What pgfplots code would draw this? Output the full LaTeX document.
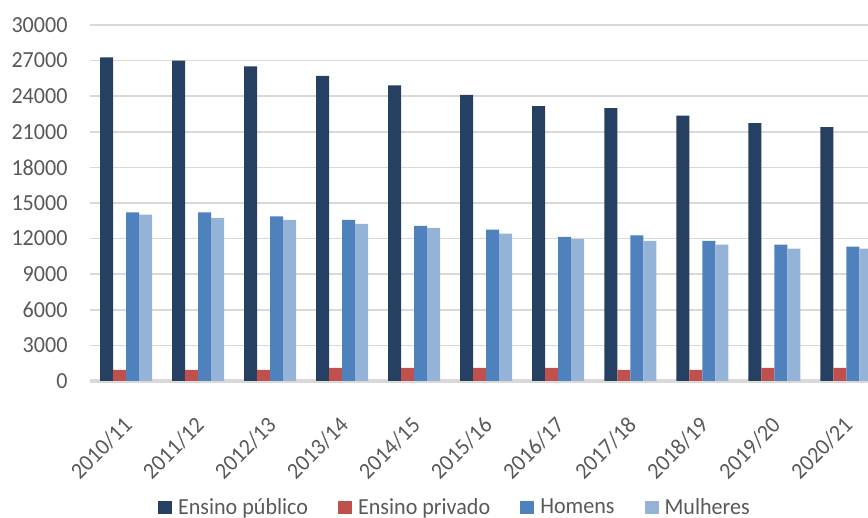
\documentclass[border=0pt]{standalone}
\usepackage{fontspec}
\setmainfont[FakeStretch=0.96]{Carlito}
\usepackage{pgfplots}
\pgfplotsset{compat=1.18}
\definecolor{cpub}{HTML}{264061}
\definecolor{cpriv}{HTML}{C0504D}
\definecolor{chom}{HTML}{4F81BD}
\definecolor{cmul}{HTML}{95B3D7}
\definecolor{ctxt}{HTML}{595959}
\definecolor{cgrid}{HTML}{D9D9D9}
\begin{document}
\begin{tikzpicture}[x=1pt,y=1pt]
\begin{axis}[
  at={(0,0)}, anchor=south west,
  scale only axis, width=778pt, height=356pt,
  ybar=0pt, bar width=13pt,
  xmin=-0.5, xmax=10.3,
  ymin=0, ymax=30000, enlargelimits=false,
  ytick={0,3000,...,30000},
  xtick={0,...,10},
  xticklabels={2010/11,2011/12,2012/13,2013/14,2014/15,2015/16,2016/17,2017/18,2018/19,2019/20,2020/21},
  scaled y ticks=false,
  /pgf/number format/1000 sep={},
  /pgf/number format/assume math mode=true,
  ymajorgrids, grid style={line width=1.5pt, cgrid},
  axis line style={draw=none},
  major tick length=0pt,
  tick label style={font=\fontsize{23}{27}\selectfont, text=ctxt},
  yticklabel style={xshift=-19pt},
  xticklabel style={xshift=-4pt, yshift=-34pt, rotate=45, anchor=north east, inner sep=0pt},
  extra y ticks={0}, extra y tick labels={},
  extra y tick style={grid style={line width=4pt, cgrid}},
  legend style={at={(0.469,-0.354)}, anchor=center, draw=none, fill=none,
    font=\fontsize{23}{27}\selectfont, text=ctxt, legend columns=-1,
    /tikz/every even column/.append style={column sep=28pt},
    /tikz/every odd column/.append style={column sep=4pt}},
  legend image code/.code={\fill[#1] (0pt,-6.5pt) rectangle (14pt,6.5pt);},
]
\addplot[fill=cpub, draw=none] coordinates {(0,27280) (1,27000) (2,26520) (3,25710) (4,24920) (5,24110) (6,23160) (7,22990) (8,22370) (9,21730) (10,21390)};
\addplot[fill=cpriv, draw=none] coordinates {(0,930) (1,930) (2,930) (3,1100) (4,1100) (5,1100) (6,1100) (7,930) (8,930) (9,1100) (10,1100)};
\addplot[fill=chom, draw=none] coordinates {(0,14215) (1,14215) (2,13880) (3,13570) (4,13065) (5,12760) (6,12140) (7,12280) (8,11800) (9,11500) (10,11330)};
\addplot[fill=cmul, draw=none] coordinates {(0,14020) (1,13740) (2,13570) (3,13230) (4,12900) (5,12420) (6,11970) (7,11800) (8,11500) (9,11160) (10,11160)};
\legend{Ensino público, Ensino privado, Homens, Mulheres}
\end{axis}
\pgfresetboundingbox
\path[use as bounding box] (-90,-137) rectangle (778,381);
\end{tikzpicture}
\end{document}
